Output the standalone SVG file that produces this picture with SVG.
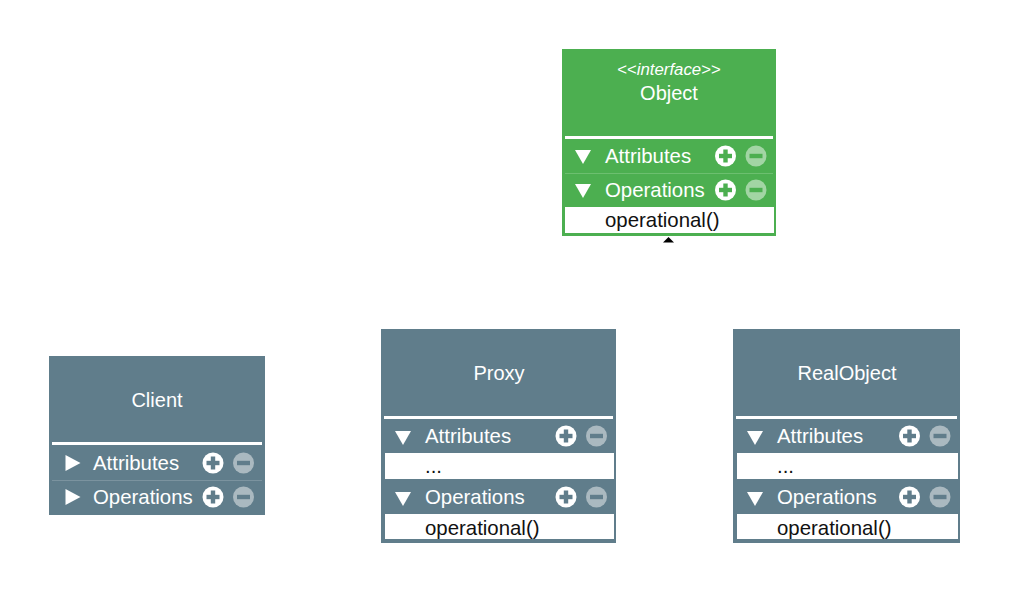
<svg xmlns="http://www.w3.org/2000/svg" width="1011" height="593" viewBox="0 0 1011 593">
<style>
text{font-family:"Liberation Sans",Arial,Helvetica,sans-serif;}
.g{fill:#4caf50;}
.b{fill:#607d8b;}
.w{fill:#ffffff;}
.title{fill:#ffffff;font-size:20px;text-anchor:middle;}
.stereo{fill:#ffffff;font-size:16.8px;text-anchor:middle;}
.row{fill:#ffffff;font-size:20.4px;}
.item{fill:#111111;font-size:20.4px;}
.sepg{stroke:#6cbf6f;stroke-width:1;}
.sepb{stroke:#7b939f;stroke-width:1;}
.hl{fill:#ffffff;}
.plus{fill:#ffffff;}
.minusg{fill:#a2d5a4;}
.minusb{fill:#aab9c0;}
</style>
<defs>
<g id="pm-g">
<circle cx="0" cy="0" r="10.5" class="plus"/>
<rect x="-6.5" y="-2.2" width="13" height="4.4" class="g"/>
<rect x="-2.2" y="-6.5" width="4.4" height="13" class="g"/>
<circle cx="30.5" cy="0" r="10.5" class="minusg"/>
<rect x="24" y="-2.2" width="13" height="4.4" class="g"/>
</g>
<g id="pm-b">
<circle cx="0" cy="0" r="10.5" class="plus"/>
<rect x="-6.5" y="-2.2" width="13" height="4.4" class="b"/>
<rect x="-2.2" y="-6.5" width="4.4" height="13" class="b"/>
<circle cx="30.5" cy="0" r="10.5" class="minusb"/>
<rect x="24" y="-2.2" width="13" height="4.4" class="b"/>
</g>
<polygon id="tri-down" points="-8,-7 8,-7 0,7" fill="#ffffff"/>
<polygon id="tri-right" points="-7.5,-8 7.5,0 -7.5,8" fill="#ffffff"/>
</defs>

<g id="connectors">
<polygon points="663,242.5 668.5,237 674,242.5" fill="#000000"/>
</g>

<g id="object">
<rect x="562" y="49" width="214" height="187" class="g"/>
<text x="669" y="75" class="stereo">&lt;&lt;<tspan font-style="italic">interface</tspan>&gt;&gt;</text>
<text x="669" y="100" class="title">Object</text>
<rect x="565" y="136" width="208" height="3" class="hl"/>
<use href="#tri-down" x="583" y="157"/>
<text x="605" y="163" class="row">Attributes</text>
<use href="#pm-g" x="725.5" y="156"/>
<line x1="565" y1="173.5" x2="773" y2="173.5" class="sepg"/>
<use href="#tri-down" x="583" y="191"/>
<text x="605" y="197" class="row">Operations</text>
<use href="#pm-g" x="725.5" y="190"/>
<rect x="565" y="207" width="209" height="26" class="w"/>
<text x="605" y="227" class="item">operational()</text>
</g>

<g id="client">
<rect x="49" y="356" width="216" height="159" class="b"/>
<text x="157" y="407" class="title">Client</text>
<rect x="52" y="442" width="210" height="3" class="hl"/>
<use href="#tri-right" x="73" y="463"/>
<text x="93" y="470" class="row">Attributes</text>
<use href="#pm-b" x="213" y="463"/>
<line x1="52" y1="480.5" x2="262" y2="480.5" class="sepb"/>
<use href="#tri-right" x="73" y="497"/>
<text x="93" y="504" class="row">Operations</text>
<use href="#pm-b" x="213" y="497"/>
</g>

<g id="proxy">
<rect x="381" y="329" width="235" height="214" class="b"/>
<text x="499" y="380" class="title">Proxy</text>
<rect x="384" y="416" width="229" height="3" class="hl"/>
<use href="#tri-down" x="403" y="438"/>
<text x="425" y="443" class="row">Attributes</text>
<use href="#pm-b" x="566" y="436"/>
<rect x="385" y="453" width="229" height="26" class="w"/>
<text x="425" y="473" class="item">...</text>
<use href="#tri-down" x="403" y="499"/>
<text x="425" y="504" class="row">Operations</text>
<use href="#pm-b" x="566" y="497"/>
<rect x="385" y="514" width="229" height="25" class="w"/>
<text x="425" y="535" class="item">operational()</text>
</g>

<g id="realobject">
<rect x="733" y="329" width="227" height="214" class="b"/>
<text x="847" y="380" class="title">RealObject</text>
<rect x="736" y="416" width="221" height="3" class="hl"/>
<use href="#tri-down" x="755" y="438"/>
<text x="777" y="443" class="row">Attributes</text>
<use href="#pm-b" x="909.5" y="436"/>
<rect x="737" y="453" width="221" height="26" class="w"/>
<text x="777" y="473" class="item">...</text>
<use href="#tri-down" x="755" y="499"/>
<text x="777" y="504" class="row">Operations</text>
<use href="#pm-b" x="909.5" y="497"/>
<rect x="737" y="514" width="221" height="25" class="w"/>
<text x="777" y="535" class="item">operational()</text>
</g>
</svg>
